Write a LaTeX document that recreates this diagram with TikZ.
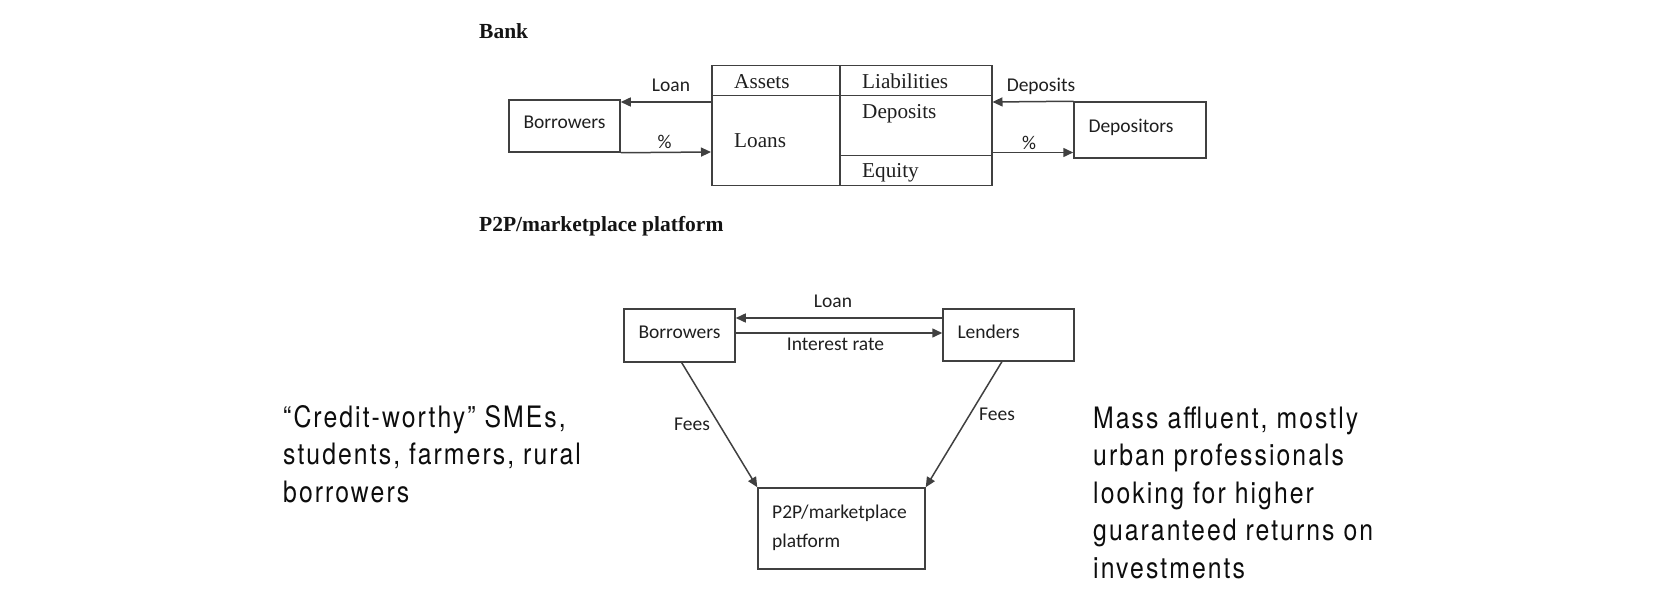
\documentclass[tikz,border=0pt]{standalone}
\usepackage{fontspec}
\setmainfont{Liberation Serif}
\newfontfamily\calfont{Carlito}
\newfontfamily\herosfont[FakeStretch=0.84,LetterSpace=7]{TeX Gyre Heros}
\usetikzlibrary{arrows.meta,calc}
\begin{document}
\begin{tikzpicture}[x=1pt,y=-1pt,
  ln/.style={draw=black!75,line width=1.5pt},
  arr/.style={ln,-{Triangle[length=10pt,width=9pt]}},
  sbox/.style={ln,rectangle,inner xsep=14.5pt,inner ysep=0pt,align=left,
     font=\calfont\fontsize{19.5}{23}\selectfont,text=black!88,
     text height=13pt,text depth=7pt},
  cell/.style={ln,rectangle,inner sep=0pt,anchor=north west},
  slbl/.style={inner sep=0pt,font=\calfont\fontsize{19.5}{23}\selectfont,text=black!88},
  tlbl/.style={inner sep=0pt,anchor=base west,font=\fontsize{21.2}{25}\selectfont,text=black!88},
  ttl/.style={inner sep=0pt,anchor=base west,font=\fontsize{21.5}{25}\selectfont\bfseries,text=black!92},
  side/.style={inner sep=0pt,anchor=base west,font=\herosfont\fontsize{29.5}{37.5}\selectfont,text=black!95}
]
\useasboundingbox (0,0) rectangle (1674,596);

% ---------- Bank ----------
\node[ttl] (bankT) at (479,39) {Bank};

\node[sbox,text width=82pt,minimum height=52pt] (bBor) at (564.5,126) {Borrowers};
\node[sbox,text width=103pt,minimum height=56pt] (dep) at (1140,130) {Depositors};

\node[cell,minimum width=128pt,minimum height=30pt] (cA) at (711,65) {};
\node[cell,minimum width=152pt,minimum height=30pt] (cL) at (839,65) {};
\node[cell,minimum width=128pt,minimum height=90pt] (cLo) at (711,95) {};
\node[cell,minimum width=152pt,minimum height=60pt] (cD) at (839,95) {};
\node[cell,minimum width=152pt,minimum height=30pt] (cE) at (839,155) {};

\node[tlbl] (tA) at (734,89) {Assets};
\node[tlbl] (tL) at (862,89) {Liabilities};
\node[tlbl] (tLo) at (734,148) {Loans};
\node[tlbl] (tD) at (862,119) {Deposits};
\node[tlbl] (tE) at (862,178) {Equity};

\draw[arr] (cLo.west |- 0,102) -- (bBor.east |- 0,102);
\draw[arr] (bBor.south east) -- (cLo.west |- 0,152);
\draw[arr] (dep.north west) -- (cD.east |- 0,102);
\draw[arr] (cD.east |- 0,152.5) -- (dep.west |- 0,152.5);

\node[slbl,anchor=base] (lLoan) at (671,92) {Loan};
\node[slbl,anchor=base] (lPct1) at (664.5,149) {\%};
\node[slbl,anchor=base] (lDep) at (1041,92) {Deposits};
\node[slbl,anchor=base] (lPct2) at (1029,150) {\%};

% ---------- P2P ----------
\node[ttl] (p2pT) at (479,232) {P2P/marketplace platform};

\node[sbox,text width=82pt,minimum height=53pt] (pBor) at (679.5,335.5) {Borrowers};
\node[sbox,text width=102pt,minimum height=52pt] (len) at (1008.5,335) {Lenders};
\node[ln,rectangle,minimum width=167pt,minimum height=81pt,inner sep=0pt] (plat) at (841.5,528.5) {};
\node[slbl,anchor=base west] (platT) at (772,518)
  {\vtop{\baselineskip=29pt\hbox{P2P/marketplace}\hbox{platform}}};

\draw[arr] (len.west |- 0,318) -- (pBor.east |- 0,318);
\draw[arr] (pBor.east |- 0,333) -- (len.west |- 0,333);
\draw[arr] ($(pBor.south west)!0.52!(pBor.south east)$) -- (plat.north west);
\draw[arr] ($(len.south west)!0.45!(len.south east)$) -- (plat.north east);

\node[slbl,anchor=base] (pLoan) at (833,307) {Loan};
\node[slbl,anchor=base] (pInt) at (835.5,350) {Interest rate};
\node[slbl,anchor=base west] (pFeesL) at (674,430) {Fees};
\node[slbl,anchor=base west] (pFeesR) at (979,420) {Fees};

% ---------- side texts ----------
\node[side] (leftT) at (283,427)
  {\vtop{\baselineskip=37.5pt\hbox{“Credit-worthy” SMEs,}\hbox{students, farmers, rural}\hbox{borrowers}}};
\node[side] (rightT) at (1093,428)
  {\vtop{\baselineskip=37.5pt\hbox{Mass affluent, mostly}\hbox{urban professionals}\hbox{looking for higher}\hbox{guaranteed returns on}\hbox{investments}}};
\end{tikzpicture}
\end{document}
